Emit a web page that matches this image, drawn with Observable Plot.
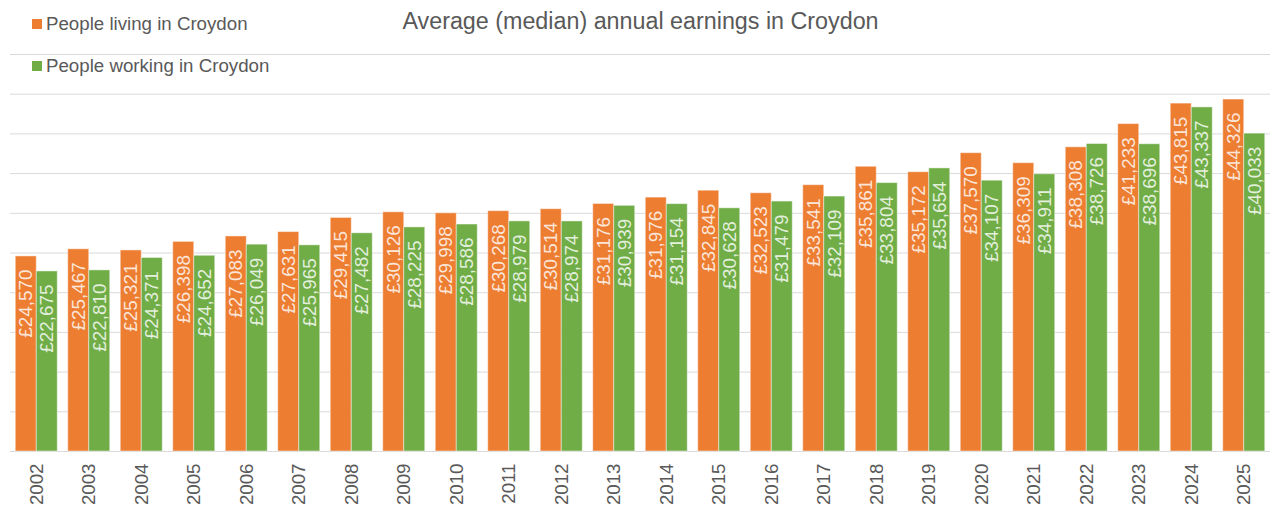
<!DOCTYPE html>
<html><head>
<meta charset="utf-8">
<script src="https://cdn.jsdelivr.net/npm/d3@7"></script>
<script src="https://cdn.jsdelivr.net/npm/@observablehq/plot@0.6"></script>
<style>
body{margin:0;background:#fff;font-family:"Liberation Sans",Arial,sans-serif;}
#wrap{position:relative;width:1271px;height:513px;overflow:hidden;}
#wrap svg{position:absolute;left:0;top:0;}
.title{position:absolute;left:0;width:1281px;text-align:center;top:8px;font-size:23.3px;line-height:26px;color:#595959;white-space:nowrap;}
.leg{position:absolute;left:32px;font-size:18.7px;line-height:22px;color:#595959;display:flex;align-items:center;white-space:nowrap;}
.sw{width:10px;height:10px;margin-right:4px;flex:none;}
</style></head><body><div id="wrap"></div>
<script>
const years = ["2002","2003","2004","2005","2006","2007","2008","2009","2010","2011","2012","2013","2014","2015","2016","2017","2018","2019","2020","2021","2022","2023","2024","2025"];
const living = [24570,25467,25321,26398,27083,27631,29415,30126,29998,30268,30514,31176,31976,32845,32523,33541,35861,35172,37570,36309,38308,41233,43815,44326];
const working = [22675,22810,24371,24652,26049,25965,27482,28225,28586,28979,28974,30939,31154,30628,31479,32109,33804,35654,34107,34911,38726,38696,43337,40033];
const series = ["People living in Croydon","People working in Croydon"];
const colors = ["#ED7D31","#70AD47"];
const gridTicks = [0,5000,10000,15000,20000,25000,30000,35000,40000,45000,50000];
const titleText = "Average (median) annual earnings in Croydon";

const data = years.flatMap((y,i)=>[
  {year:y, series:series[0], value:living[i]},
  {year:y, series:series[1], value:working[i]}
]);
const fmt = d => "£" + d3.format(",")(d);

const chart = Plot.plot({
  width:1271, height:513,
  marginLeft:10, marginRight:1, marginTop:54, marginBottom:62,
  style:{fontFamily:"'Liberation Sans', Arial, sans-serif", background:"transparent", overflow:"visible"},
  fx:{domain:years, paddingInner:0.2, paddingOuter:0.1, round:false, label:null, axis:null},
  x:{domain:series, padding:0, round:false, axis:null},
  y:{domain:[0,50000], axis:null},
  color:{domain:series, range:colors},
  marks:[
    Plot.ruleY(gridTicks, {stroke:"#d9d9d9", strokeWidth:1, insetLeft:-5.25, insetRight:-5.25}),
    Plot.barY(data, {fx:"year", x:"series", y:"value", fill:"series", stroke:"white", strokeOpacity:0.45, strokeWidth:1}),
    Plot.text(data, {fx:"year", x:"series", y:"value", text:d=>fmt(d.value), rotate:-90, textAnchor:"end", lineAnchor:"middle", dy:13, fill:"white", fillOpacity:0.82, fontSize:18.9}),
    Plot.axisFx({anchor:"bottom", tickSize:0, tickPadding:12, tickRotate:-90, textAnchor:"end", fontSize:18.7, fill:"#595959", label:null})
  ]
});

const wrap = document.getElementById("wrap");
wrap.appendChild(chart);
const t = document.createElement("div");
t.className = "title"; t.textContent = titleText; wrap.appendChild(t);
const legTops = [13, 55];
series.forEach((s,i)=>{
  const d = document.createElement("div");
  d.className = "leg"; d.style.top = legTops[i] + "px";
  const sw = document.createElement("span"); sw.className = "sw"; sw.style.background = colors[i];
  const tx = document.createElement("span"); tx.textContent = s;
  d.appendChild(sw); d.appendChild(tx); wrap.appendChild(d);
});
</script>
</body></html>
